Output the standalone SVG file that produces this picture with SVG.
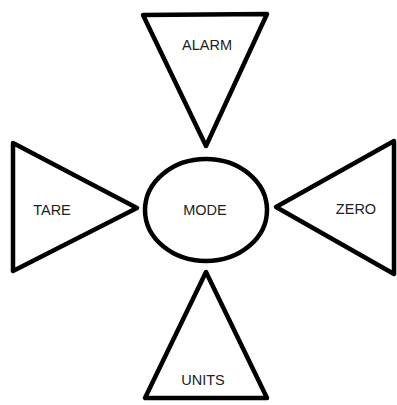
<svg xmlns="http://www.w3.org/2000/svg" width="397" height="405" viewBox="0 0 397 405">
<style>
.shape{fill:#fff;stroke:#000;stroke-width:4.5;stroke-linejoin:round}
.lbl{font-family:"Liberation Sans",Arial,sans-serif;font-size:14.5px;fill:#222;text-anchor:middle}
</style>
<rect width="397" height="405" fill="#fff"/>
<g id="alarm">
<polygon class="shape" points="143,15 267,14 206,146"/>
<text class="lbl" x="207" y="50">ALARM</text>
</g>
<g id="tare">
<polygon class="shape" points="13,143 137,208 13,271"/>
<text class="lbl" x="52" y="215">TARE</text>
</g>
<g id="mode">
<ellipse class="shape" cx="206" cy="210" rx="61" ry="51"/>
<text class="lbl" x="205" y="215">MODE</text>
</g>
<g id="zero">
<polygon class="shape" points="394,141 276,207 394,274"/>
<text class="lbl" x="356" y="214">ZERO</text>
</g>
<g id="units">
<polygon class="shape" points="206,272 145,398 267,398"/>
<text class="lbl" x="203" y="385">UNITS</text>
</g>
<g id="connectors"/>
</svg>
